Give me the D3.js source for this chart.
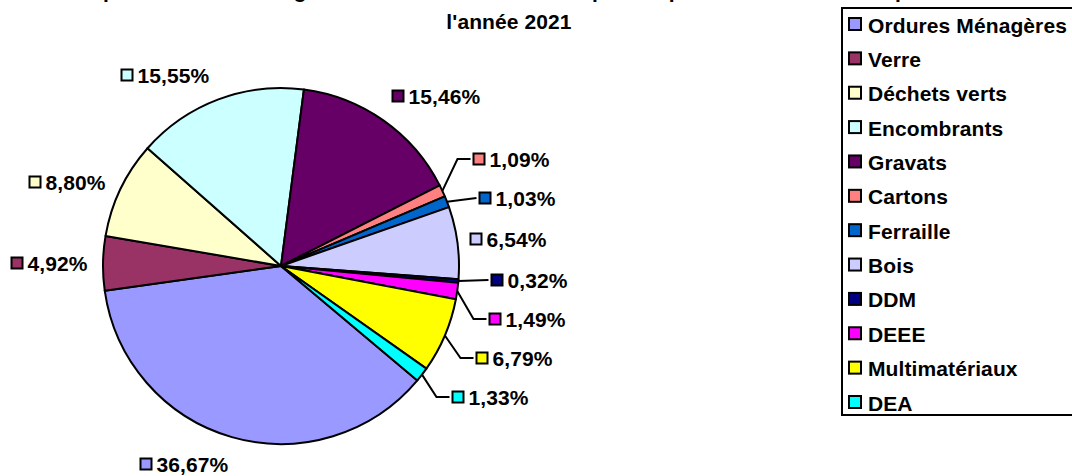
<!DOCTYPE html>
<html><head><meta charset="utf-8">
<script src="https://cdn.jsdelivr.net/npm/d3@7/dist/d3.min.js"></script>
<style>
html,body{margin:0;padding:0;background:#fff;overflow:hidden}
text{font-family:"Liberation Sans",Arial,sans-serif;font-weight:bold;fill:#000}
</style></head><body>
<svg id="chart" width="1072" height="476"></svg>
<script>
const categories = ["Ordures Ménagères","Verre","Déchets verts","Encombrants","Gravats","Cartons","Ferraille","Bois","DDM","DEEE","Multimatériaux","DEA"];
const values = [36.67,4.92,8.80,15.55,15.46,1.09,1.03,6.54,0.32,1.49,6.79,1.33];
const valueLabels = ["36,67%","4,92%","8,80%","15,55%","15,46%","1,09%","1,03%","6,54%","0,32%","1,49%","6,79%","1,33%"];
const colors = ["#9999FF","#993366","#FFFFCC","#CCFFFF","#660066","#FF8080","#0066CC","#CCCCFF","#000080","#FF00FF","#FFFF00","#00FFFF"];
const titleLines = ["Répartition des tonnages des déchets collectés en porte à porte et en déchèterie pour","l'année 2021"];

// layout (label marker centres relative to pie centre, manual placement as in the original)
const labelPos = [[-135,198],[-264,-3],[-246,-84],[-154,-191],[117,-170],[198,-107],[204,-68],[195,-27],[216,14],[214,53],[201,92],[177,131]];
const withLeader = new Set(["Cartons","Ferraille","DDM","DEEE","Multimatériaux","DEA"]);

const svg = d3.select("#chart");
const cx = 281, cy = 266, R = 178;
const fontSize = 21, ls = 0.1;

// title (first line is cut by the top edge in the original)
svg.selectAll("text.title").data(titleLines).join("text")
  .attr("class","title")
  .attr("x",509).attr("y",(d,i)=>-2+i*31)
  .attr("text-anchor","middle")
  .style("font-size",fontSize+"px").style("letter-spacing",ls+"px")
  .text(d=>d);

const pie = d3.pie().sort(null).value(d=>d)
  .startAngle(130*Math.PI/180).endAngle((130+360)*Math.PI/180);
const arcs = pie(values);
const arc = d3.arc().innerRadius(0).outerRadius(R);

const g = svg.append("g").attr("transform",`translate(${cx},${cy})`);
g.selectAll("path").data(arcs).join("path")
  .attr("d",arc)
  .attr("fill",(d,i)=>colors[i])
  .attr("stroke","#000").attr("stroke-width",2).attr("stroke-linejoin","round");

// labels
const ms = 11;
arcs.forEach((a,i)=>{
  const [lx,ly] = labelPos[i];
  const mid = (a.startAngle+a.endAngle)/2;
  if (withLeader.has(categories[i])) {
    const ex = Math.sin(mid)*R, ey = -Math.cos(mid)*R;
    const endX = lx - ms/2 - 3;
    const elbowX = Math.abs(ly-ey) < 4 ? endX : lx - ms/2 - 16;
    g.append("polyline")
      .attr("points",`${ex},${ey} ${elbowX},${ly} ${endX},${ly}`)
      .attr("fill","none").attr("stroke","#000").attr("stroke-width",2);
  }
  g.append("rect").attr("x",lx-ms/2).attr("y",ly-ms/2).attr("width",ms).attr("height",ms)
    .attr("fill",colors[i]).attr("stroke","#000").attr("stroke-width",2);
  g.append("text").attr("x",lx+ms/2+5).attr("y",ly).attr("dy","0.36em")
    .style("font-size",fontSize+"px").style("letter-spacing",ls+"px")
    .text(valueLabels[i]);
});

// legend
const lg = svg.append("g");
lg.append("rect").attr("x",842).attr("y",8).attr("width",260).attr("height",407)
  .attr("fill","#fff").attr("stroke","#000").attr("stroke-width",2);
const rowY = d3.scalePoint().domain(categories).range([25,403]);
const rows = lg.selectAll("g.row").data(categories).join("g").attr("class","row")
  .attr("transform",d=>`translate(0,${rowY(d)})`);
rows.append("rect").attr("x",849).attr("y",-7).attr("width",12).attr("height",12)
  .attr("fill",(d,i)=>colors[i]).attr("stroke","#000").attr("stroke-width",2);
rows.append("text").attr("x",868).attr("y",0).attr("dy","0.36em")
  .style("font-size",fontSize+"px").style("letter-spacing",ls+"px")
  .text(d=>d);
</script>
</body></html>
